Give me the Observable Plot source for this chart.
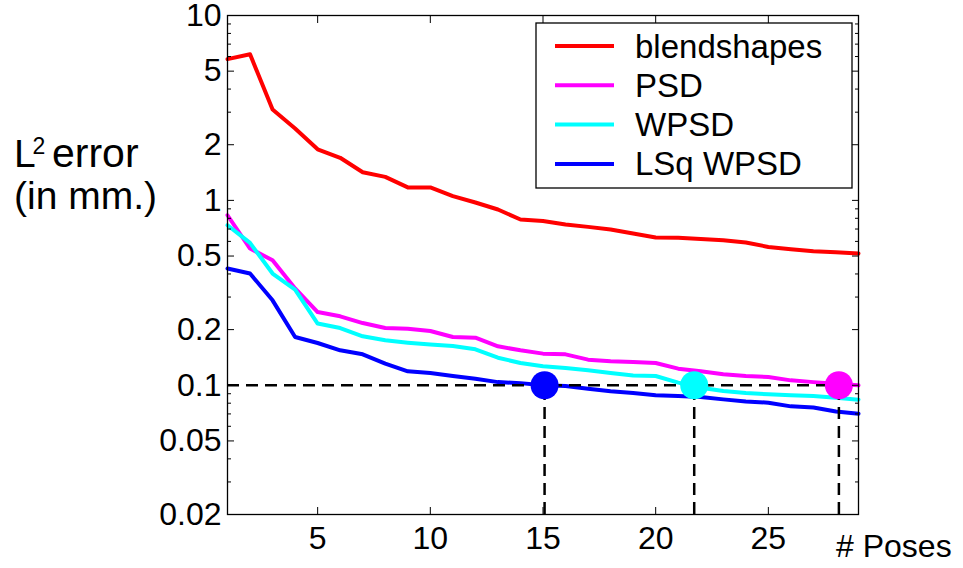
<!DOCTYPE html>
<html>
<head>
<meta charset="utf-8">
<script src="https://cdn.jsdelivr.net/npm/d3@7"></script>
<script src="https://cdn.jsdelivr.net/npm/@observablehq/plot@0.6"></script>
<style>
  html, body { margin: 0; padding: 0; background: white; }
  #chart { width: 963px; height: 568px; position: relative; }
</style>
</head>
<body>
<div id="chart"></div>
<script>
// ---- data ----
const poses = [1,2,3,4,5,6,7,8,9,10,11,12,13,14,15,16,17,18,19,20,21,22,23,24,25,26,27,28,29];
const blendshapes = [5.81,6.17,3.10,2.45,1.89,1.70,1.42,1.34,1.175,1.175,1.054,0.974,0.893,0.788,0.774,0.740,0.719,0.696,0.662,0.630,0.627,0.619,0.609,0.592,0.560,0.544,0.531,0.524,0.516];
const psd = [0.831,0.549,0.474,0.334,0.249,0.236,0.217,0.204,0.202,0.1965,0.1824,0.181,0.1624,0.1545,0.1483,0.147,0.1376,0.1347,0.1335,0.1319,0.123,0.119,0.1146,0.1123,0.1108,0.1063,0.104,0.102,0.100];
const wpsd = [0.734,0.589,0.402,0.329,0.2156,0.204,0.184,0.175,0.170,0.166,0.163,0.1565,0.141,0.1319,0.1266,0.124,0.1204,0.1164,0.1131,0.1122,0.1033,0.0970,0.0930,0.0907,0.0893,0.0882,0.0876,0.0857,0.0836];
const lsqWpsd = [0.428,0.402,0.288,0.1824,0.1693,0.1545,0.147,0.1309,0.119,0.1164,0.1123,0.1085,0.104,0.1027,0.100,0.099,0.0958,0.0927,0.0907,0.0882,0.0876,0.0863,0.0839,0.0818,0.0805,0.0769,0.0759,0.0722,0.0702];

const seriesNames = ["blendshapes", "PSD", "WPSD", "LSq WPSD"];
const seriesColors = ["#ff0000", "#ff00ff", "#00ffff", "#0000ff"];
const seriesValues = [blendshapes, psd, wpsd, lsqWpsd];

const threshold = 0.1;
const crossNames = ["LSq WPSD", "WPSD", "PSD"];
const crossPoses = [15.07, 21.71, 28.13];

const xTicks = [5, 10, 15, 20, 25];
const yMajor = [0.02, 0.05, 0.1, 0.2, 0.5, 1, 2, 5, 10];
const yMajorLabels = ["0.02", "0.05", "0.1", "0.2", "0.5", "1", "2", "5", "10"];
const yMinor = [0.03, 0.04, 0.06, 0.07, 0.08, 0.09, 0.3, 0.4, 0.6, 0.7, 0.8, 0.9, 3, 4, 6, 7, 8, 9];

const yLabelLine1 = ["L", "2", "error"];
const yLabelLine2 = "(in mm.)";
const xLabel = "# Poses";

// ---- build tables ----
const rows = seriesNames.flatMap((name, s) =>
  poses.map((p, i) => ({pose: p, err: seriesValues[s][i], name})));
const crossRows = crossNames.map((name, i) => ({pose: crossPoses[i], err: threshold, name}));
const yLabelRows = yMajor.map((v, i) => ({v, label: yMajorLabels[i]}));

const FONT = "'Liberation Sans', Arial, Helvetica, sans-serif";
const TICKFONT = 32;

const chart = Plot.plot({
  width: 963,
  height: 568,
  marginLeft: 227,
  marginRight: 105,
  marginTop: 15,
  marginBottom: 54,
  style: {fontFamily: FONT, fontSize: TICKFONT + "px", color: "black", background: "white", overflow: "visible"},
  x: {domain: [poses[0], poses[poses.length - 1]]},
  y: {type: "log", domain: [yMajor[0], yMajor[yMajor.length - 1]]},
  color: {domain: seriesNames, range: seriesColors},
  marks: [
    Plot.line(rows, {x: "pose", y: "err", z: "name", stroke: "name", strokeWidth: 4, strokeLinejoin: "round"}),
    Plot.ruleY([threshold], {x1: poses[0], x2: crossPoses[2], stroke: "black", strokeWidth: 2.5, strokeDasharray: "12,7"}),
    Plot.ruleX(crossPoses, {y1: yMajor[0], y2: threshold, stroke: "black", strokeWidth: 2.5, strokeDasharray: "12,7"}),
    Plot.dot(crossRows, {x: "pose", y: "err", fill: "name", r: 14, stroke: "none"}),
    Plot.frame({stroke: "black", strokeWidth: 1.3}),
    // tick labels
    Plot.text(xTicks, {x: d => d, frameAnchor: "bottom", lineAnchor: "top", dy: 12, text: d => String(d), fontSize: TICKFONT, fill: "black"}),
    Plot.text(yLabelRows, {y: "v", frameAnchor: "left", textAnchor: "end", dx: -6, text: "label", fontSize: TICKFONT, fill: "black"}),
    // inward ticks
    Plot.axisX({ticks: xTicks, anchor: "bottom", tickSize: 7, dy: -7, fill: "none", label: null}),
    Plot.axisX({ticks: xTicks, anchor: "top", tickSize: 7, dy: 7, fill: "none", label: null}),
    Plot.axisY({ticks: yMajor, anchor: "left", tickSize: 7, dx: 7, fill: "none", label: null}),
    Plot.axisY({ticks: yMinor, anchor: "left", tickSize: 4, dx: 4, fill: "none", label: null}),
    Plot.axisY({ticks: yMajor, anchor: "right", tickSize: 7, dx: -7, fill: "none", label: null}),
    Plot.axisY({ticks: yMinor, anchor: "right", tickSize: 4, dx: -4, fill: "none", label: null})
  ]
});

document.getElementById("chart").appendChild(chart);

// ---- texts and legend appended into the same SVG ----
const svg = d3.select(chart);
const g = svg.append("g").attr("font-family", FONT).attr("fill", "black").attr("text-anchor", "start");

// y label
const t1 = g.append("text").attr("font-size", 39).attr("y", 166.7);
t1.append("tspan").attr("x", 14).text(yLabelLine1[0]);
t1.append("tspan").attr("x", 32.5).attr("dy", -12.4).attr("font-size", 23).text(yLabelLine1[1]);
t1.append("tspan").attr("x", 52).attr("dy", 12.4).attr("font-size", 41).text(yLabelLine1[2]);
g.append("text").attr("font-size", 39).attr("x", 14).attr("y", 208.5).text(yLabelLine2);

// x label
g.append("text").attr("font-size", 32).attr("x", 836).attr("y", 556.5).text(xLabel);

// legend
const lg = svg.append("g").attr("font-family", FONT).attr("text-anchor", "start");
lg.append("rect").attr("x", 536).attr("y", 23).attr("width", 316).attr("height", 165)
  .attr("fill", "white").attr("stroke", "black").attr("stroke-width", 1.3);
seriesNames.forEach((name, i) => {
  const yy = 46 + i * 39.3;
  lg.append("line").attr("x1", 555).attr("x2", 614).attr("y1", yy).attr("y2", yy)
    .attr("stroke", seriesColors[i]).attr("stroke-width", 4);
  lg.append("text").attr("x", 635).attr("y", yy + 11.5).attr("font-size", 33).attr("fill", "black").text(name);
});
</script>
</body>
</html>
